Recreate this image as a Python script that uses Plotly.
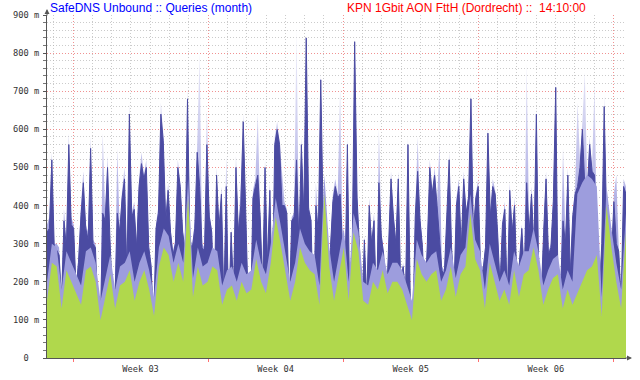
import numpy as np
import plotly.graph_objects as go

# ---- data (values in milli-queries/s) ----
avg_vals = [
    330, 340, 520, 288, 283, 270, 150, 360, 290, 560,
    350, 340, 180, 250, 370, 460, 340, 310, 550, 300,
    290, 110, 70, 380, 360, 500, 310, 160, 140, 380,
    330, 420, 470, 220, 640, 370, 390, 290, 450, 510,
    470, 500, 290, 240, 80, 340, 380, 640, 570, 360,
    440, 330, 270, 300, 500, 450, 330, 280, 680, 300,
    290, 340, 540, 450, 290, 280, 560, 370, 330, 140,
    480, 340, 430, 150, 450, 110, 330, 180, 500, 330,
    400, 620, 390, 150, 90, 420, 450, 480, 370, 190,
    500, 250, 440, 140, 560, 600, 560, 400, 400, 380,
    120, 360, 370, 520, 300, 560, 380, 840, 390, 360,
    80, 400, 330, 730, 370, 320, 90, 290, 410, 450,
    420, 430, 290, 200, 560, 110, 290, 830, 420, 290,
    110, 310, 150, 400, 300, 360, 130, 460, 320, 270,
    120, 290, 470, 370, 300, 470, 190, 240, 170, 560,
    130, 80, 370, 490, 360, 290, 140, 300, 500, 430,
    480, 400, 300, 230, 220, 350, 520, 290, 180, 400,
    450, 290, 470, 380, 420, 680, 330, 420, 450, 230,
    230, 290, 590, 370, 450, 430, 330, 190, 350, 390,
    150, 440, 330, 400, 190, 250, 340, 220, 460, 330,
    430, 290, 640, 200, 160, 330, 470, 270, 290, 410,
    710, 140, 180, 360, 300, 480, 220, 370, 430, 450,
    500, 600, 450, 440, 560, 490, 480, 300, 170, 300,
    660, 360, 300, 260, 410, 300, 280, 150, 450, 430,
]

max_vals = [
    350, 370, 540, 300, 300, 290, 160, 390, 300, 590,
    370, 350, 190, 270, 400, 490, 350, 330, 580, 310,
    300, 120, 80, 590, 380, 530, 320, 170, 150, 550,
    340, 440, 500, 230, 670, 380, 410, 300, 470, 540,
    480, 520, 300, 250, 90, 350, 400, 670, 590, 370,
    460, 340, 280, 310, 520, 460, 340, 290, 710, 310,
    300, 360, 560, 800, 300, 290, 650, 380, 340, 150,
    500, 350, 450, 160, 530, 120, 340, 190, 530, 340,
    460, 640, 400, 160, 100, 440, 470, 640, 380, 200,
    520, 260, 460, 150, 580, 620, 570, 490, 410, 390,
    130, 370, 380, 870, 310, 580, 390, 850, 400, 370,
    90, 460, 340, 750, 380, 330, 100, 300, 430, 470,
    430, 710, 300, 210, 580, 120, 300, 850, 430, 300,
    120, 320, 160, 420, 310, 380, 140, 600, 330, 280,
    130, 300, 490, 380, 310, 490, 200, 250, 180, 580,
    140, 90, 380, 580, 370, 300, 150, 310, 520, 440,
    500, 410, 560, 240, 230, 360, 540, 300, 190, 420,
    470, 300, 490, 390, 430, 700, 340, 430, 470, 240,
    240, 300, 610, 380, 470, 440, 340, 200, 360, 410,
    160, 460, 340, 420, 200, 260, 350, 230, 775, 340,
    450, 300, 660, 210, 170, 340, 490, 280, 300, 430,
    730, 150, 190, 550, 310, 500, 230, 380, 450, 670,
    520, 620, 750, 450, 580, 500, 720, 310, 180, 310,
    690, 370, 310, 270, 430, 480, 290, 160, 470, 450,
]

lav_vals = [
    200, 300, 290, 180, 280, 250, 220, 190, 280, 290,
    250, 150, 210, 270, 180, 240, 250, 280, 200, 250,
    280, 230, 160, 290, 340, 320, 250, 300, 250, 470,
    210, 290, 240, 250, 290, 280, 190, 230, 240, 200,
    250, 220, 230, 310, 250, 220, 300, 420, 350, 270,
    200, 250, 340, 300, 280, 270, 190, 480, 290, 200,
    270, 340, 200, 380, 330, 200, 190, 250, 230, 280,
    220, 250, 250, 230, 190, 150, 310, 270, 250, 270,
    280, 200, 230, 290, 210, 270, 290, 430, 310, 280,
    180, 300, 250, 200, 230, 190, 280, 240, 280, 280,
    340, 280, 190, 230, 260, 270, 180, 230, 200, 430,
    460, 480, 470, 450, 160, 450, 340, 250, 180, 380,
]

green_vals = [
    150, 250, 240, 130, 230, 200, 170, 140, 230, 240,
    200, 100, 160, 220, 130, 190, 200, 230, 150, 200,
    230, 180, 110, 240, 290, 270, 200, 250, 200, 420,
    160, 240, 190, 200, 240, 230, 140, 180, 190, 150,
    200, 170, 180, 260, 200, 170, 250, 370, 300, 220,
    150, 200, 290, 250, 230, 220, 140, 430, 240, 150,
    220, 290, 150, 330, 280, 150, 140, 200, 180, 230,
    170, 200, 200, 180, 140, 100, 260, 220, 200, 220,
    230, 150, 180, 240, 160, 220, 240, 380, 260, 230,
    130, 250, 200, 150, 180, 140, 230, 160, 220, 230,
    290, 230, 140, 180, 210, 220, 130, 180, 140, 170,
    200, 230, 240, 270, 110, 400, 290, 200, 130, 330,
]

days_span = 30.0
week_start = 1.347          # first Monday, in days from the left edge
week_labels = ["Week 03", "Week 04", "Week 05", "Week 06"]
y_ticks = [0, 100, 200, 300, 400, 500, 600, 700, 800, 900]
y_ticktext = ["0\u00a0\u00a0"] + [f"{v} m" for v in y_ticks[1:]]

t_fine = np.linspace(0, days_span, len(avg_vals))
t_coarse = np.linspace(0, days_span, len(green_vals))

week_bounds = [week_start + 7 * k for k in range(5)]
week_centers = [week_start + 3.5 + 7 * k for k in range(len(week_labels))]

GREEN = "#b0d84c"
DARK = "#4b4ba2"
LAV = "#9d9ddd"
MONO = "DejaVu Sans Mono"
MAJOR_GRID = "rgba(255,120,120,0.7)"
MINOR_GRID = "rgba(175,175,175,0.65)"

fig = go.Figure()
fig.add_trace(go.Scatter(
    x=t_fine, y=max_vals, mode="lines", line=dict(width=0),
    fill="tozeroy",
    fillgradient=dict(type="vertical", start=0, stop=900,
                      colorscale=[[0, "#9a9adc"], [0.4, "#aaaae3"], [0.7, "#d2d2f0"], [1, "#f8f8fd"]]),
    hoverinfo="skip", showlegend=False))
fig.add_trace(go.Scatter(
    x=t_fine, y=avg_vals, mode="lines", line=dict(width=1, color=DARK),
    fill="tozeroy", fillcolor=DARK, hoverinfo="skip", showlegend=False))
fig.add_trace(go.Scatter(
    x=t_coarse, y=lav_vals, mode="lines", line=dict(width=0, color=LAV),
    fill="tozeroy", fillcolor=LAV, hoverinfo="skip", showlegend=False))
fig.add_trace(go.Scatter(
    x=t_coarse, y=green_vals, mode="lines", line=dict(width=0, color=GREEN),
    fill="tozeroy", fillcolor=GREEN, hoverinfo="skip", showlegend=False))
# carrier for the label axis
fig.add_trace(go.Scatter(
    x=[t_fine[0], t_fine[-1]], y=[0, 0], xaxis="x2", mode="lines",
    line=dict(width=0), hoverinfo="skip", showlegend=False))

fig.update_layout(
    width=640, height=380,
    margin=dict(l=47, r=14, t=15, b=22, autoexpand=False),
    paper_bgcolor="white", plot_bgcolor="white",
    xaxis=dict(
        range=[0, days_span], showline=True, linecolor="#555", linewidth=1,
        automargin=False,
        tickvals=week_bounds, showticklabels=False,
        ticks="outside", ticklen=3, tickcolor="#ff7070",
        showgrid=True, gridcolor=MAJOR_GRID, griddash="1px,2px", gridwidth=1,
        minor=dict(tick0=week_start, dtick=1, showgrid=True,
                   gridcolor=MINOR_GRID, griddash="1px,2px", gridwidth=1),
        zeroline=False,
    ),
    xaxis2=dict(
        overlaying="x", side="bottom", anchor="y", range=[0, days_span],
        automargin=False,
        tickvals=week_centers, ticktext=week_labels, ticks="",
        ticklabelstandoff=4,
        showgrid=False, showline=False, zeroline=False,
        tickfont=dict(family=MONO, size=8.7, color="#333"),
    ),
    yaxis=dict(
        range=[0, 900], showline=True, linecolor="#555", linewidth=1,
        automargin=False,
        tickvals=y_ticks, ticktext=y_ticktext,
        ticks="outside", ticklen=3, tickcolor="#555",
        ticklabelstandoff=2,
        tickfont=dict(family=MONO, size=8.7, color="#333"),
        showgrid=True, gridcolor=MAJOR_GRID, griddash="1px,2px", gridwidth=1,
        minor=dict(dtick=20, showgrid=True, ticks="outside", ticklen=3, tickcolor="#777",
                   gridcolor=MINOR_GRID, griddash="1px,2px", gridwidth=1),
        zeroline=False,
    ),
    annotations=[
        dict(text="SafeDNS Unbound :: Queries (month)", xref="paper", yref="paper",
             x=(48 - 47) / 579, y=(358 - 8) / 343, xanchor="left", yanchor="middle",
             showarrow=False, font=dict(family="Liberation Sans", size=12, color="#0000ff")),
        dict(text="KPN 1Gbit AON FttH (Dordrecht) ::  14:10:00", xref="paper", yref="paper",
             x=(588 - 47) / 579, y=(358 - 8) / 343, xanchor="right", yanchor="middle",
             showarrow=False, font=dict(family="Liberation Sans", size=12, color="#ff0000")),
        # axis arrow heads
        dict(text="", xref="paper", yref="paper", x=0, y=1 + 6 / 343,
             ax=0, ay=8, showarrow=True, arrowhead=2, arrowsize=1, arrowwidth=1, arrowcolor="#555"),
        dict(text="", xref="paper", yref="paper", x=1 + 6 / 579, y=0,
             ax=-8, ay=0, showarrow=True, arrowhead=2, arrowsize=1, arrowwidth=1, arrowcolor="#555"),
    ],
)

fig.write_html(
    "out.html",
    config={"displayModeBar": False},
    post_script="document.body.style.margin='0';document.body.style.padding='0';",
)
